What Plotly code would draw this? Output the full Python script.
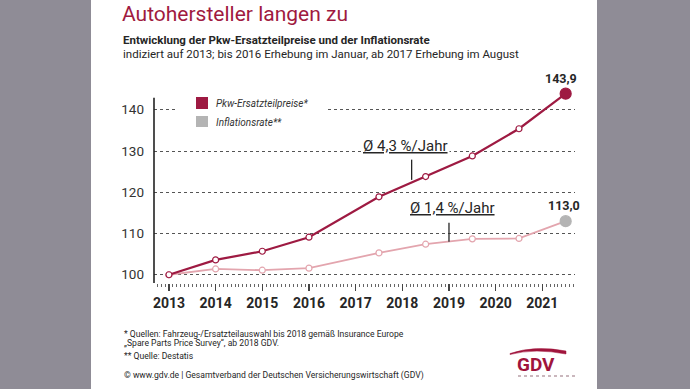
import plotly.graph_objects as go

# ---------------- data ----------------
years_x = [2013, 2014, 2015, 2016, 2017.5, 2018.5, 2019.5, 2020.5, 2021.5]
pkw = [100.0, 103.6, 105.7, 109.1, 118.9, 123.8, 128.8, 135.4, 143.9]
infl = [100.0, 101.4, 101.1, 101.6, 105.3, 107.4, 108.7, 108.8, 113.0]
tick_years = [2013, 2014, 2015, 2016, 2017, 2018, 2019, 2020, 2021]
y_ticks = [100, 110, 120, 130, 140]
last_labels = ["143,9", "113,0"]

RED = "#9e1a42"
PINK = "#e3a5ae"
GREY_PT = "#b4b4b4"
GRAY_BG = "#8f8c96"
TXT = "#262626"
FONT = "Roboto"

W, H = 690, 389
L, R, T, B = 154, 575, 85, 283   # plot area in pixels
YR = [98, 146]
XR = [2012.68, 2021.70]


def PX(x):
    return (x - L) / (R - L)


def PY(y):
    return (B - y) / (B - T)


fig = go.Figure()

n = len(years_x)
fig.add_trace(go.Scatter(
    x=years_x, y=infl, mode="lines+markers", cliponaxis=False,
    line=dict(color=PINK, width=1.8),
    marker=dict(symbol="circle", size=[6] * (n - 1) + [11], opacity=1,
                color=["white"] * (n - 1) + [GREY_PT],
                line=dict(color=[PINK] * (n - 1) + [GREY_PT], width=1.2)),
    showlegend=False, hoverinfo="skip"))
fig.add_trace(go.Scatter(
    x=years_x, y=pkw, mode="lines+markers", cliponaxis=False,
    line=dict(color=RED, width=2.2),
    marker=dict(symbol="circle", size=[6] * (n - 1) + [11], opacity=1,
                color=["white"] * (n - 1) + [RED],
                line=dict(color=RED, width=1.2)),
    showlegend=False, hoverinfo="skip"))

shapes = []
# white center panel
shapes.append(dict(type="rect", xref="paper", yref="paper", layer="below",
                   x0=PX(91), x1=PX(597), y0=PY(389), y1=PY(0),
                   fillcolor="white", line=dict(width=0)))
# y axis line (stops just below the 143 level)
shapes.append(dict(type="line", xref="paper", yref="y", x0=0, x1=0,
                   y0=YR[0], y1=142.9, line=dict(color="#222", width=1.6)))
# legend area (breaks the 140 gridline)
shapes.append(dict(type="rect", xref="paper", yref="paper", layer="above",
                   x0=PX(177), x1=PX(327), y0=PY(130), y1=PY(96),
                   fillcolor="white", line=dict(width=0)))
shapes.append(dict(type="rect", xref="paper", yref="paper", layer="above",
                   x0=PX(196), x1=PX(208), y0=PY(109), y1=PY(97),
                   fillcolor=RED, line=dict(width=0)))
shapes.append(dict(type="rect", xref="paper", yref="paper", layer="above",
                   x0=PX(196), x1=PX(208), y0=PY(127), y1=PY(116),
                   fillcolor=GREY_PT, line=dict(width=0)))
# leader lines
shapes.append(dict(type="line", xref="x", yref="y", x0=2018.2, x1=2018.2,
                   y0=123.0, y1=127.9, line=dict(color=TXT, width=1.3)))
shapes.append(dict(type="line", xref="x", yref="y", x0=2019.0, x1=2019.0,
                   y0=108.0, y1=112.6, line=dict(color=TXT, width=1.3)))


# GDV swoosh
def pth(points):
    s = ""
    for cmd, pts in points:
        s += cmd + " " + " ".join(f"{PX(a):.4f},{PY(b):.4f}" for a, b in pts) + " "
    return s + "Z"


swoosh = pth([("M", [(510, 353.5)]),
              ("Q", [(535, 345), (566, 351)]),
              ("L", [(566, 354)]),
              ("Q", [(535, 348), (510, 354.5)])])
shapes.append(dict(type="path", xref="paper", yref="paper", path=swoosh,
                   fillcolor="#a0143c", line=dict(color="#a0143c", width=0.5)))
shapes.append(dict(type="line", xref="paper", yref="paper",
                   x0=PX(518), x1=PX(576), y0=PY(376), y1=PY(376),
                   line=dict(color="#b9a0a8", width=1.5, dash="dot")))

ann = []


def txt(x, y, s, size, color=TXT, weight="normal", style="normal",
        xanchor="left", bg=None):
    d = dict(xref="paper", yref="paper", x=PX(x), y=PY(y), text=s,
             showarrow=False, xanchor=xanchor, yanchor="middle",
             font=dict(family=FONT, size=size, color=color,
                       weight=weight, style=style))
    if bg:
        d["bgcolor"] = bg
    ann.append(d)


txt(120, 14, "Autohersteller langen zu", 21, color="#a01a40")
txt(121, 40, "Entwicklung der Pkw-Ersatzteilpreise und der Inflationsrate", 11.5,
    weight="bold")
txt(121, 54, "indiziert auf 2013; bis 2016 Erhebung im Januar, ab 2017 Erhebung im August",
    11.5)
# legend texts
txt(214, 103, "Pkw-Ersatzteilpreise*", 10, color="#333333", style="italic")
txt(214, 122, "Inflationsrate**", 10, color="#333333", style="italic")
# averages
txt(405, 146, "<u>Ø 4,3 %/Jahr</u>", 15, xanchor="center", bg="white")
txt(452, 208, "<u>Ø 1,4 %/Jahr</u>", 15, xanchor="center", bg="white")
# footer
txt(122, 334, "* Quellen: Fahrzeug-/Ersatzteilauswahl bis 2018 gemäß Insurance Europe", 8.6)
txt(122, 343, "„Spare Parts Price Survey“, ab 2018 GDV.", 8.6)
txt(122, 356, "** Quelle: Destatis", 8.6)
txt(122, 375, "© www.gdv.de | Gesamtverband der Deutschen Versicherungswirtschaft (GDV)", 8.6)
# GDV logo text
txt(536, 364, "GDV", 19, color="#a0143c", weight="bold", xanchor="center")

# end labels
for yv, lab, dx in [(pkw[-1], last_labels[0], -5), (infl[-1], last_labels[1], -2)]:
    ann.append(dict(x=years_x[-1], y=yv, xref="x", yref="y", text=lab,
                    showarrow=False, xanchor="center", yanchor="bottom",
                    xshift=dx, yshift=6,
                    font=dict(family=FONT, size=12.5, color=TXT, weight="bold")))

fig.update_layout(
    width=W, height=H,
    margin=dict(l=L, r=W - R, t=T, b=H - B, pad=0),
    paper_bgcolor=GRAY_BG, plot_bgcolor="rgba(0,0,0,0)",
    shapes=shapes, annotations=ann, showlegend=False, hovermode=False,
    xaxis=dict(range=XR, tickvals=tick_years,
               ticktext=[str(v) for v in tick_years],
               showgrid=False, zeroline=False, showline=False,
               ticks="outside", ticklen=7, tickwidth=1.2, tickcolor="#444",
               minor=dict(dtick=1 / 12, tick0=2013, ticks="outside",
                          ticklen=3, tickwidth=1, tickcolor="#666",
                          showgrid=False),
               tickfont=dict(family=FONT, size=14, color=TXT, weight="bold")),
    yaxis=dict(range=YR, tickvals=y_ticks,
               ticktext=[str(v) for v in y_ticks],
               showgrid=True, gridcolor="#555", griddash="dot", gridwidth=1,
               zeroline=False, showline=False,
               ticks="", ticklabelstandoff=9,
               tickfont=dict(family=FONT, size=13.5, color="#333")),
)

fig.write_html("out.html",
               config={"displayModeBar": False, "staticPlot": True},
               post_script="document.body.style.margin='0px';"
                           "document.body.style.background='%s';" % GRAY_BG)
